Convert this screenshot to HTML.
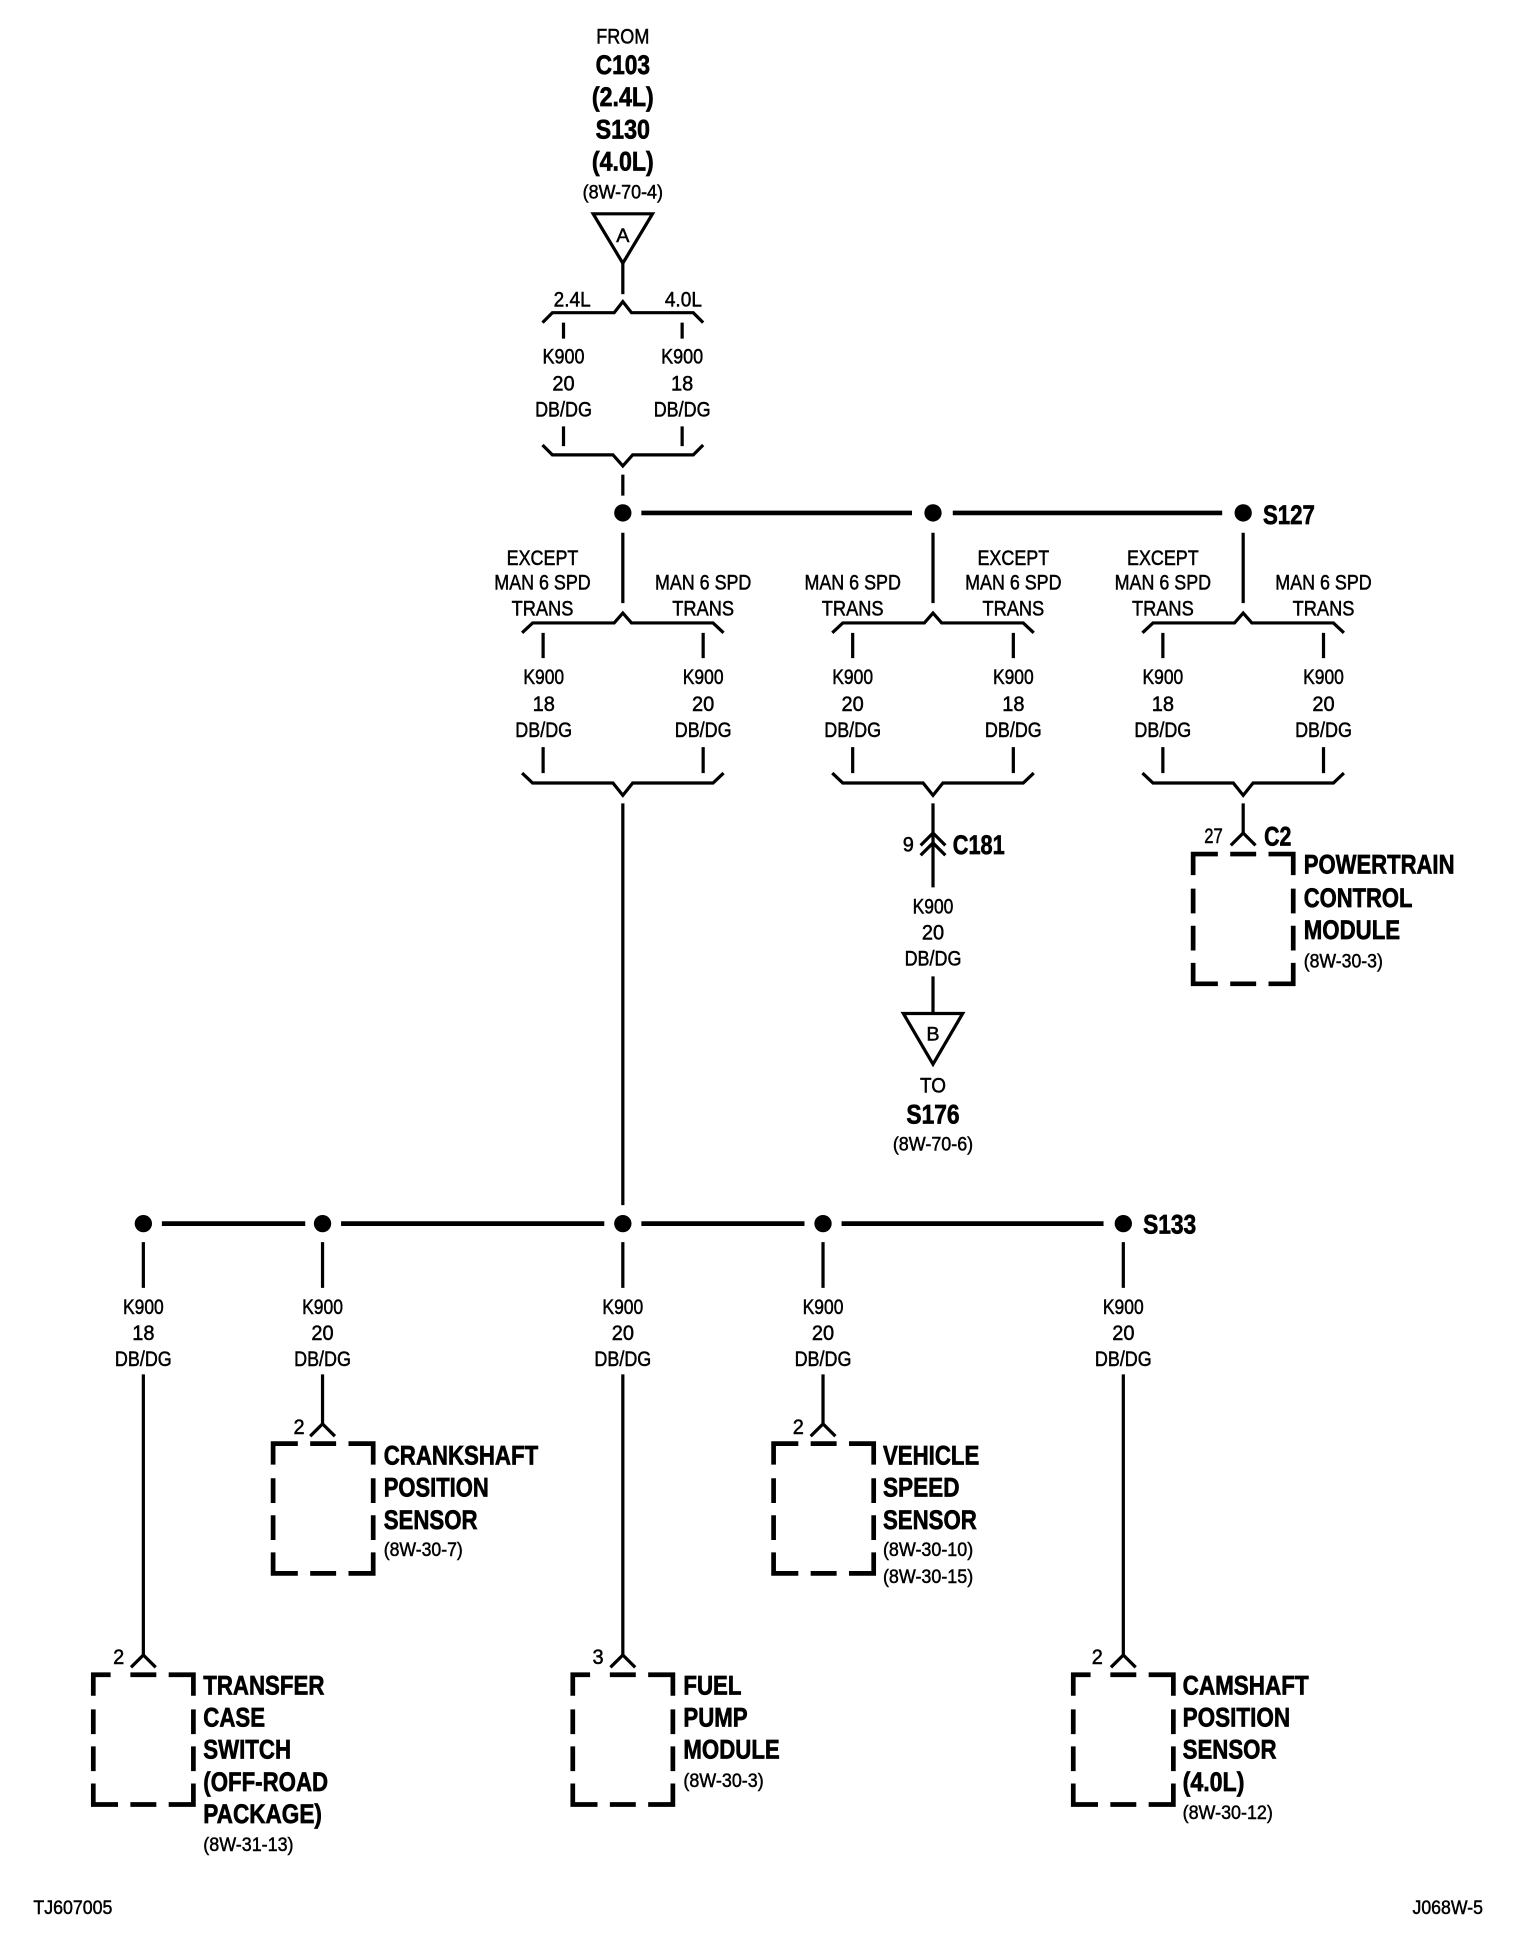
<!DOCTYPE html>
<html><head><meta charset="utf-8"><style>
html,body{margin:0;padding:0;background:#fff}
svg{display:block}
text{font-family:"Liberation Sans",sans-serif;font-size:17px;fill:#000;stroke:#000;stroke-width:.4px}
.b{font-weight:bold;font-size:22px;stroke-width:.55px}
.s{font-size:16px}
.m{text-anchor:middle}
.w{fill:none;stroke:#000;stroke-width:2.6}
.bus{fill:none;stroke:#000;stroke-width:3.8}
.bx{fill:none;stroke:#000;stroke-width:3.8}
</style></head><body>
<svg xmlns="http://www.w3.org/2000/svg" width="1520" height="1938" viewBox="0 0 1230 1568" preserveAspectRatio="none">
<defs>
<g id="box"><path class="bx" d="M0,17V0H20M30,0H51M61,0H81V17M0,28V48M0,58V78M0,88V105H20M30,105H51M61,105H81V88M81,28V48M81,58V78"/></g>
<g id="boxs"><path class="bx" d="M0,17V0H14M30,0H51M61,0H81V17M0,28V48M0,58V78M0,88V105H20M30,105H51M61,105H81V88M81,28V48M81,58V78"/></g>
<g id="ch"><path class="w" d="M-10,10L0,0L10,10"/></g>
<g id="top"><path class="w" d="M-65,9L-57,1H-7L0,-8L7,1H57L65,9"/></g>
<g id="bot"><path class="w" d="M-65,-8L-57,0H-8L0,9L8,0H57L65,-8"/></g>
<g id="topw"><path class="w" d="M-81.5,8L-73,0H-7L0,-8L7,0H73L81.5,8"/></g>
<g id="botw"><path class="w" d="M-81.5,-8L-73,0H-8L0,10L8,0H73L81.5,-8"/></g>
</defs>

<!-- top header -->
<text class="m" x="504" y="29" dy=".36em" textLength="43" lengthAdjust="spacingAndGlyphs">FROM</text>
<text class="b m" x="504" y="52" dy=".36em" textLength="44" lengthAdjust="spacingAndGlyphs">C103</text>
<text class="b m" x="504" y="78" dy=".36em" textLength="50" lengthAdjust="spacingAndGlyphs">(2.4L)</text>
<text class="b m" x="504" y="104" dy=".36em" textLength="44" lengthAdjust="spacingAndGlyphs">S130</text>
<text class="b m" x="504" y="130" dy=".36em" textLength="50" lengthAdjust="spacingAndGlyphs">(4.0L)</text>
<text class="s m" x="504" y="155" dy=".36em" textLength="65" lengthAdjust="spacingAndGlyphs">(8W-70-4)</text>
<path class="w" d="M480,173H528L504,213Z"/>
<text class="s m" x="504" y="190" dy=".36em">A</text>
<path class="w" d="M504,213V238"/>
<use href="#top" x="504" y="252"/>
<text class="m" x="463" y="242" dy=".36em" textLength="30" lengthAdjust="spacingAndGlyphs">2.4L</text>
<text class="m" x="553" y="242" dy=".36em" textLength="30" lengthAdjust="spacingAndGlyphs">4.0L</text>
<path class="w" d="M456,261V274M552,261V274M456,345V361M552,345V361M504,384V401"/>
<text class="m" x="456" y="288" dy=".36em" textLength="34" lengthAdjust="spacingAndGlyphs">K900</text>
<text class="m" x="456" y="310" dy=".36em" textLength="18" lengthAdjust="spacingAndGlyphs">20</text>
<text class="m" x="456" y="331" dy=".36em" textLength="46" lengthAdjust="spacingAndGlyphs">DB/DG</text>
<text class="m" x="552" y="288" dy=".36em" textLength="34" lengthAdjust="spacingAndGlyphs">K900</text>
<text class="m" x="552" y="310" dy=".36em" textLength="18" lengthAdjust="spacingAndGlyphs">18</text>
<text class="m" x="552" y="331" dy=".36em" textLength="46" lengthAdjust="spacingAndGlyphs">DB/DG</text>
<use href="#bot" x="504" y="368"/>

<!-- S127 bus -->
<circle cx="504" cy="415" r="7"/><circle cx="755" cy="415" r="7"/><circle cx="1006" cy="415" r="7"/>
<path class="bus" d="M519,415H738M771,415H989"/>
<text class="b" x="1022" y="416" dy=".36em" textLength="42" lengthAdjust="spacingAndGlyphs">S127</text>
<path class="w" d="M504,431V488M755,431V488M1006,431V488"/>

<use href="#topw" x="504" y="504"/><use href="#topw" x="755" y="504"/><use href="#topw" x="1006" y="504"/>
<use href="#botw" x="504" y="633.5"/><use href="#botw" x="755" y="633.5"/><use href="#botw" x="1006" y="633.5"/>
<path class="w" d="M439.5,512V532.5M569,512V532.5M439.5,604.5V625.5M569,604.5V625.5M690,512V532.5M820,512V532.5M690,604.5V625.5M820,604.5V625.5M941,512V532.5M1071,512V532.5M941,604.5V625.5M1071,604.5V625.5"/>

<text class="m" x="439" y="451" dy=".36em" textLength="58" lengthAdjust="spacingAndGlyphs">EXCEPT</text>
<text class="m" x="439" y="471" dy=".36em" textLength="78" lengthAdjust="spacingAndGlyphs">MAN 6 SPD</text>
<text class="m" x="439" y="492" dy=".36em" textLength="50" lengthAdjust="spacingAndGlyphs">TRANS</text>
<text class="m" x="569" y="471" dy=".36em" textLength="78" lengthAdjust="spacingAndGlyphs">MAN 6 SPD</text>
<text class="m" x="569" y="492" dy=".36em" textLength="50" lengthAdjust="spacingAndGlyphs">TRANS</text>

<text class="m" x="690" y="471" dy=".36em" textLength="78" lengthAdjust="spacingAndGlyphs">MAN 6 SPD</text>
<text class="m" x="690" y="492" dy=".36em" textLength="50" lengthAdjust="spacingAndGlyphs">TRANS</text>
<text class="m" x="820" y="451" dy=".36em" textLength="58" lengthAdjust="spacingAndGlyphs">EXCEPT</text>
<text class="m" x="820" y="471" dy=".36em" textLength="78" lengthAdjust="spacingAndGlyphs">MAN 6 SPD</text>
<text class="m" x="820" y="492" dy=".36em" textLength="50" lengthAdjust="spacingAndGlyphs">TRANS</text>

<text class="m" x="941" y="451" dy=".36em" textLength="58" lengthAdjust="spacingAndGlyphs">EXCEPT</text>
<text class="m" x="941" y="471" dy=".36em" textLength="78" lengthAdjust="spacingAndGlyphs">MAN 6 SPD</text>
<text class="m" x="941" y="492" dy=".36em" textLength="50" lengthAdjust="spacingAndGlyphs">TRANS</text>
<text class="m" x="1071" y="471" dy=".36em" textLength="78" lengthAdjust="spacingAndGlyphs">MAN 6 SPD</text>
<text class="m" x="1071" y="492" dy=".36em" textLength="50" lengthAdjust="spacingAndGlyphs">TRANS</text>

<text class="m" x="440" y="547.5" dy=".36em" textLength="33" lengthAdjust="spacingAndGlyphs">K900</text>
<text class="m" x="440" y="569" dy=".36em" textLength="18" lengthAdjust="spacingAndGlyphs">18</text>
<text class="m" x="440" y="590" dy=".36em" textLength="46" lengthAdjust="spacingAndGlyphs">DB/DG</text>
<text class="m" x="569" y="547.5" dy=".36em" textLength="33" lengthAdjust="spacingAndGlyphs">K900</text>
<text class="m" x="569" y="569" dy=".36em" textLength="18" lengthAdjust="spacingAndGlyphs">20</text>
<text class="m" x="569" y="590" dy=".36em" textLength="46" lengthAdjust="spacingAndGlyphs">DB/DG</text>
<text class="m" x="690" y="547.5" dy=".36em" textLength="33" lengthAdjust="spacingAndGlyphs">K900</text>
<text class="m" x="690" y="569" dy=".36em" textLength="18" lengthAdjust="spacingAndGlyphs">20</text>
<text class="m" x="690" y="590" dy=".36em" textLength="46" lengthAdjust="spacingAndGlyphs">DB/DG</text>
<text class="m" x="820" y="547.5" dy=".36em" textLength="33" lengthAdjust="spacingAndGlyphs">K900</text>
<text class="m" x="820" y="569" dy=".36em" textLength="18" lengthAdjust="spacingAndGlyphs">18</text>
<text class="m" x="820" y="590" dy=".36em" textLength="46" lengthAdjust="spacingAndGlyphs">DB/DG</text>
<text class="m" x="941" y="547.5" dy=".36em" textLength="33" lengthAdjust="spacingAndGlyphs">K900</text>
<text class="m" x="941" y="569" dy=".36em" textLength="18" lengthAdjust="spacingAndGlyphs">18</text>
<text class="m" x="941" y="590" dy=".36em" textLength="46" lengthAdjust="spacingAndGlyphs">DB/DG</text>
<text class="m" x="1071" y="547.5" dy=".36em" textLength="33" lengthAdjust="spacingAndGlyphs">K900</text>
<text class="m" x="1071" y="569" dy=".36em" textLength="18" lengthAdjust="spacingAndGlyphs">20</text>
<text class="m" x="1071" y="590" dy=".36em" textLength="46" lengthAdjust="spacingAndGlyphs">DB/DG</text>

<!-- C181 -->
<path class="w" d="M755,650V718"/>
<use href="#ch" x="755" y="674"/><use href="#ch" x="755" y="682"/>
<text class="m" x="735" y="683" dy=".36em" textLength="9" lengthAdjust="spacingAndGlyphs">9</text>
<text class="b" x="771" y="683" dy=".36em" textLength="42" lengthAdjust="spacingAndGlyphs">C181</text>
<text class="m" x="755" y="733" dy=".36em" textLength="33" lengthAdjust="spacingAndGlyphs">K900</text>
<text class="m" x="755" y="754" dy=".36em" textLength="18" lengthAdjust="spacingAndGlyphs">20</text>
<text class="m" x="755" y="775" dy=".36em" textLength="46" lengthAdjust="spacingAndGlyphs">DB/DG</text>
<path class="w" d="M755,790V820M731,820H779L755,861Z"/>
<text class="s m" x="755" y="836" dy=".36em">B</text>
<text class="m" x="755" y="878" dy=".36em" textLength="21" lengthAdjust="spacingAndGlyphs">TO</text>
<text class="b m" x="755" y="901" dy=".36em" textLength="43" lengthAdjust="spacingAndGlyphs">S176</text>
<text class="s m" x="755" y="925" dy=".36em" textLength="65" lengthAdjust="spacingAndGlyphs">(8W-70-6)</text>

<!-- C2 PCM -->
<path class="w" d="M1006,650V674"/>
<use href="#ch" x="1006" y="674"/>
<text class="m" x="982" y="676" dy=".36em" textLength="15" lengthAdjust="spacingAndGlyphs">27</text>
<text class="b" x="1023" y="676" dy=".36em" textLength="22" lengthAdjust="spacingAndGlyphs">C2</text>
<use href="#box" x="965.5" y="691"/>
<text class="b" x="1055" y="699" dy=".36em" textLength="122" lengthAdjust="spacingAndGlyphs">POWERTRAIN</text>
<text class="b" x="1055" y="726" dy=".36em" textLength="88" lengthAdjust="spacingAndGlyphs">CONTROL</text>
<text class="b" x="1055" y="752" dy=".36em" textLength="78" lengthAdjust="spacingAndGlyphs">MODULE</text>
<text class="s" x="1055" y="777" dy=".36em" textLength="64" lengthAdjust="spacingAndGlyphs">(8W-30-3)</text>

<!-- trunk -->
<path class="w" d="M504,650V975"/>

<!-- S133 bus -->
<circle cx="116" cy="990" r="7"/><circle cx="261" cy="990" r="7"/><circle cx="504" cy="990" r="7"/><circle cx="666" cy="990" r="7"/><circle cx="909" cy="990" r="7"/>
<path class="bus" d="M131,990H247M276,990H489M519,990H651M681,990H893"/>
<text class="b" x="925" y="990" dy=".36em" textLength="43" lengthAdjust="spacingAndGlyphs">S133</text>
<path class="w" d="M116,1005V1042M261,1005V1042M504,1005V1042M666,1005V1042M909,1005V1042"/>

<text class="m" x="116" y="1057" dy=".36em" textLength="33" lengthAdjust="spacingAndGlyphs">K900</text>
<text class="m" x="116" y="1078" dy=".36em" textLength="18" lengthAdjust="spacingAndGlyphs">18</text>
<text class="m" x="116" y="1099" dy=".36em" textLength="46" lengthAdjust="spacingAndGlyphs">DB/DG</text>
<text class="m" x="261" y="1057" dy=".36em" textLength="33" lengthAdjust="spacingAndGlyphs">K900</text>
<text class="m" x="261" y="1078" dy=".36em" textLength="18" lengthAdjust="spacingAndGlyphs">20</text>
<text class="m" x="261" y="1099" dy=".36em" textLength="46" lengthAdjust="spacingAndGlyphs">DB/DG</text>
<text class="m" x="504" y="1057" dy=".36em" textLength="33" lengthAdjust="spacingAndGlyphs">K900</text>
<text class="m" x="504" y="1078" dy=".36em" textLength="18" lengthAdjust="spacingAndGlyphs">20</text>
<text class="m" x="504" y="1099" dy=".36em" textLength="46" lengthAdjust="spacingAndGlyphs">DB/DG</text>
<text class="m" x="666" y="1057" dy=".36em" textLength="33" lengthAdjust="spacingAndGlyphs">K900</text>
<text class="m" x="666" y="1078" dy=".36em" textLength="18" lengthAdjust="spacingAndGlyphs">20</text>
<text class="m" x="666" y="1099" dy=".36em" textLength="46" lengthAdjust="spacingAndGlyphs">DB/DG</text>
<text class="m" x="909" y="1057" dy=".36em" textLength="33" lengthAdjust="spacingAndGlyphs">K900</text>
<text class="m" x="909" y="1078" dy=".36em" textLength="18" lengthAdjust="spacingAndGlyphs">20</text>
<text class="m" x="909" y="1099" dy=".36em" textLength="46" lengthAdjust="spacingAndGlyphs">DB/DG</text>

<path class="w" d="M116,1112V1339M261,1112V1152M504,1112V1339M666,1112V1152M909,1112V1339"/>
<use href="#ch" x="116" y="1339"/><use href="#ch" x="261" y="1152"/><use href="#ch" x="504" y="1339"/><use href="#ch" x="666" y="1152"/><use href="#ch" x="909" y="1339"/>

<text class="m" x="96" y="1340" dy=".36em" textLength="9" lengthAdjust="spacingAndGlyphs">2</text>
<text class="m" x="242" y="1154" dy=".36em" textLength="9" lengthAdjust="spacingAndGlyphs">2</text>
<text class="m" x="484" y="1340" dy=".36em" textLength="9" lengthAdjust="spacingAndGlyphs">3</text>
<text class="m" x="646" y="1154" dy=".36em" textLength="9" lengthAdjust="spacingAndGlyphs">2</text>
<text class="m" x="888" y="1340" dy=".36em" textLength="9" lengthAdjust="spacingAndGlyphs">2</text>

<use href="#boxs" x="75.5" y="1355"/>
<use href="#box" x="221" y="1168"/>
<use href="#boxs" x="463.5" y="1355"/>
<use href="#box" x="626" y="1168"/>
<use href="#boxs" x="868.5" y="1355"/>

<text class="b" x="310.5" y="1177" dy=".36em" textLength="125" lengthAdjust="spacingAndGlyphs">CRANKSHAFT</text>
<text class="b" x="310.5" y="1203" dy=".36em" textLength="85" lengthAdjust="spacingAndGlyphs">POSITION</text>
<text class="b" x="310.5" y="1229" dy=".36em" textLength="76" lengthAdjust="spacingAndGlyphs">SENSOR</text>
<text class="s" x="310.5" y="1253" dy=".36em" textLength="64" lengthAdjust="spacingAndGlyphs">(8W-30-7)</text>

<text class="b" x="714.5" y="1177" dy=".36em" textLength="78" lengthAdjust="spacingAndGlyphs">VEHICLE</text>
<text class="b" x="714.5" y="1203" dy=".36em" textLength="62" lengthAdjust="spacingAndGlyphs">SPEED</text>
<text class="b" x="714.5" y="1229" dy=".36em" textLength="76" lengthAdjust="spacingAndGlyphs">SENSOR</text>
<text class="s" x="714.5" y="1253" dy=".36em" textLength="73" lengthAdjust="spacingAndGlyphs">(8W-30-10)</text>
<text class="s" x="714.5" y="1275" dy=".36em" textLength="73" lengthAdjust="spacingAndGlyphs">(8W-30-15)</text>

<text class="b" x="164.5" y="1363" dy=".36em" textLength="98" lengthAdjust="spacingAndGlyphs">TRANSFER</text>
<text class="b" x="164.5" y="1389" dy=".36em" textLength="50" lengthAdjust="spacingAndGlyphs">CASE</text>
<text class="b" x="164.5" y="1415" dy=".36em" textLength="71" lengthAdjust="spacingAndGlyphs">SWITCH</text>
<text class="b" x="164.5" y="1441" dy=".36em" textLength="101" lengthAdjust="spacingAndGlyphs">(OFF-ROAD</text>
<text class="b" x="164.5" y="1467" dy=".36em" textLength="96" lengthAdjust="spacingAndGlyphs">PACKAGE)</text>
<text class="s" x="164.5" y="1492" dy=".36em" textLength="73" lengthAdjust="spacingAndGlyphs">(8W-31-13)</text>

<text class="b" x="553" y="1363" dy=".36em" textLength="47" lengthAdjust="spacingAndGlyphs">FUEL</text>
<text class="b" x="553" y="1389" dy=".36em" textLength="52" lengthAdjust="spacingAndGlyphs">PUMP</text>
<text class="b" x="553" y="1415" dy=".36em" textLength="78" lengthAdjust="spacingAndGlyphs">MODULE</text>
<text class="s" x="553" y="1440" dy=".36em" textLength="65" lengthAdjust="spacingAndGlyphs">(8W-30-3)</text>

<text class="b" x="957" y="1363" dy=".36em" textLength="102" lengthAdjust="spacingAndGlyphs">CAMSHAFT</text>
<text class="b" x="957" y="1389" dy=".36em" textLength="87" lengthAdjust="spacingAndGlyphs">POSITION</text>
<text class="b" x="957" y="1415" dy=".36em" textLength="76" lengthAdjust="spacingAndGlyphs">SENSOR</text>
<text class="b" x="957" y="1441" dy=".36em" textLength="50" lengthAdjust="spacingAndGlyphs">(4.0L)</text>
<text class="s" x="957" y="1466" dy=".36em" textLength="73" lengthAdjust="spacingAndGlyphs">(8W-30-12)</text>

<text class="s" x="27" y="1543" dy=".36em" textLength="64" lengthAdjust="spacingAndGlyphs">TJ607005</text>
<text class="s" x="1143" y="1543" dy=".36em" textLength="57" lengthAdjust="spacingAndGlyphs">J068W-5</text>
</svg>
</body></html>
